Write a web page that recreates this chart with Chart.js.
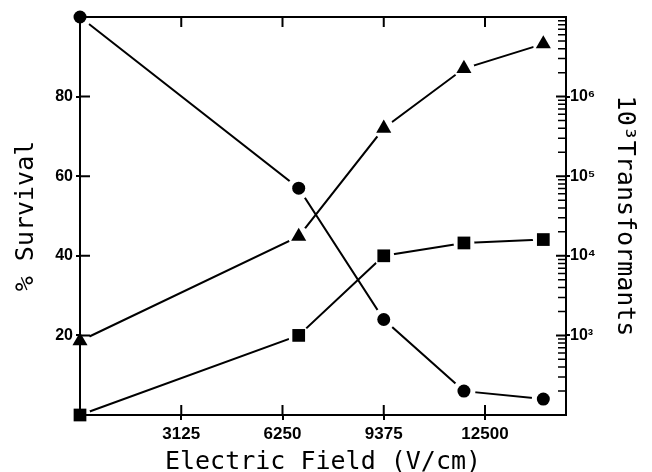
<!DOCTYPE html>
<html>
<head>
<meta charset="utf-8">
<script src="https://cdn.jsdelivr.net/npm/chart.js@4"></script>
<style>
  html, body { margin: 0; padding: 0; background: #fff; }
  #wrap { width: 652px; height: 472px; }
</style>
</head>
<body>
<div id="wrap"><canvas id="chart" width="652" height="472"></canvas></div>
<script>
// values
const fieldValues = [0, 6750, 9375, 11850, 14300];
const survival = [100, 57, 24, 6, 4];
const transformantsTri = [850, 17500, 400000, 2250000, 4600000];
const transformantsSq = [100, 1000, 10000, 14500, 16000];

const xTicks = [3125, 6250, 9375, 12500];
const survivalTicks = [20, 40, 60, 80];
const logTicks = [1e3, 1e4, 1e5, 1e6];
const logTickLabels = ['10³', '10⁴', '10⁵', '10⁶'];

const BLACK = '#000';
const TICK_FONT = { family: 'Liberation Sans', weight: 'bold', size: 16 };
const TITLE_FONT = { family: 'DejaVu Sans Mono', size: 25, lineHeight: 1 };

const pts = ys => fieldValues.map((x, i) => ({ x, y: ys[i] }));

// line, white gap round the markers, then the markers on top
function series(ys, axis, style, radius, gap) {
  return [
    { data: pts(ys), yAxisID: axis, showLine: true, borderColor: BLACK, borderWidth: 2,
      pointRadius: 0, order: 3, clip: false },
    { data: pts(ys), yAxisID: axis, showLine: false, pointStyle: 'circle', pointRadius: gap,
      pointBackgroundColor: '#fff', pointBorderWidth: 0, order: 2, clip: false },
    { data: pts(ys), yAxisID: axis, showLine: false, pointStyle: style, pointRadius: radius,
      pointBackgroundColor: BLACK, pointBorderWidth: 0, order: 1, clip: false },
  ];
}

// axes drawn above the datasets so the white gaps don't cut them
const axisGrid = { drawOnChartArea: false, tickLength: 4, lineWidth: 2, color: BLACK, z: 1 };
const axisBorder = { color: BLACK, width: 2, z: 1 };

// inward tick marks (Chart.js only draws them outside)
const innerTicks = {
  id: 'innerTicks',
  afterDraw(chart) {
    const { ctx, chartArea: a, scales } = chart;
    ctx.save();
    ctx.strokeStyle = BLACK;
    ctx.lineWidth = 2;
    ctx.beginPath();
    xTicks.forEach(v => {
      const px = scales.x.getPixelForValue(v);
      ctx.moveTo(px, a.bottom); ctx.lineTo(px, a.bottom - 10);
      ctx.moveTo(px, a.top); ctx.lineTo(px, a.top + 10);
    });
    survivalTicks.forEach(v => {
      const py = scales.y.getPixelForValue(v);
      ctx.moveTo(a.left, py); ctx.lineTo(a.left + 10, py);
    });
    logTicks.forEach(v => {
      const py = scales.y2.getPixelForValue(v);
      ctx.moveTo(a.right, py); ctx.lineTo(a.right - 10, py);
    });
    ctx.stroke();
    ctx.lineWidth = 1.5;
    ctx.beginPath();
    for (let e = 2; e < 7; e++) {
      for (let k = 2; k < 10; k++) {
        const py = scales.y2.getPixelForValue(k * Math.pow(10, e));
        ctx.moveTo(a.right, py); ctx.lineTo(a.right - 8, py);
      }
    }
    ctx.stroke();
    ctx.restore();
  }
};

new Chart(document.getElementById('chart'), {
  type: 'scatter',
  data: {
    datasets: [
      ...series(survival, 'y', 'circle', 6.5, 11.5),
      ...series(transformantsTri, 'y2', 'triangle', 8.7, 10.5),
      ...series(transformantsSq, 'y2', 'rect', 9, 10.5),
    ],
  },
  options: {
    responsive: false,
    animation: false,
    devicePixelRatio: 1,
    layout: { padding: { top: 17, left: 0, right: 0, bottom: 0 } },
    plugins: { legend: { display: false }, tooltip: { enabled: false } },
    scales: {
      x: {
        type: 'linear', position: 'bottom', min: 0, max: 15000,
        afterBuildTicks: s => { s.ticks = xTicks.map(v => ({ value: v })); },
        afterFit: s => { s.height = 57; },
        grid: { ...axisGrid, tickLength: 5 },
        border: axisBorder,
        ticks: { color: BLACK, font: { ...TICK_FONT, size: 17 }, padding: 4, maxRotation: 0, z: 1,
                 callback: v => String(v) },
        title: { display: true, text: 'Electric Field (V/cm)', color: BLACK,
                 font: { ...TITLE_FONT, lineHeight: 0.75 }, padding: 0 },
      },
      x2: {
        type: 'linear', position: 'top', min: 0, max: 15000,
        afterFit: s => { s.height = 0; },
        grid: { drawOnChartArea: false, drawTicks: false, z: 1 },
        border: axisBorder,
        ticks: { display: false },
      },
      y: {
        type: 'linear', position: 'left', min: 0, max: 100,
        afterBuildTicks: s => { s.ticks = survivalTicks.map(v => ({ value: v })); },
        afterFit: s => { s.width = 80; },
        grid: axisGrid,
        border: axisBorder,
        ticks: { color: BLACK, font: TICK_FONT, padding: 3, z: 1 },
        title: { display: true, text: '% Survival', color: BLACK, font: TITLE_FONT, padding: { top: 14, bottom: 0 } },
      },
      y2: {
        type: 'logarithmic', position: 'right', min: 100, max: 1e7,
        afterBuildTicks: s => { s.ticks = logTicks.map(v => ({ value: v })); },
        afterFit: s => { s.width = 86; },
        grid: axisGrid,
        border: axisBorder,
        ticks: { color: BLACK, font: { family: 'Liberation Sans', weight: 'bold', size: 16 }, padding: 0, z: 1,
                 callback: v => logTickLabels[logTicks.indexOf(v)] },
        title: { display: true, text: '10³Transformants', color: BLACK, font: TITLE_FONT, padding: { top: 15, bottom: 0 } },
      },
    },
  },
  plugins: [innerTicks],
});
</script>
</body>
</html>
